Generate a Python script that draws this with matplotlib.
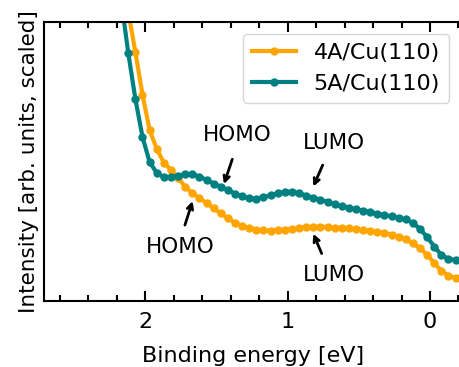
import matplotlib
matplotlib.use('Agg')
import matplotlib.pyplot as plt
import numpy as np

# Энергия связи (eV), шаг 0.05
energy = np.round(np.arange(2.27, -0.2, -0.05), 2)

# 4A/Cu(110)
int_4a = [1.688, 1.437, 1.222, 1.036, 0.892, 0.740, 0.613, 0.545, 0.496, 0.470,
          0.441, 0.409, 0.387, 0.369, 0.351, 0.332, 0.314, 0.296, 0.281, 0.268,
          0.261, 0.256, 0.253, 0.252, 0.254, 0.256, 0.258, 0.261, 0.264, 0.266,
          0.266, 0.265, 0.263, 0.262, 0.260, 0.257, 0.254, 0.251, 0.247, 0.243,
          0.238, 0.230, 0.221, 0.206, 0.190, 0.165, 0.136, 0.108, 0.091, 0.082]

# 5A/Cu(110)
int_5a = [1.581, 1.294, 1.079, 0.889, 0.724, 0.588, 0.498, 0.459, 0.444, 0.444,
          0.449, 0.455, 0.455, 0.446, 0.434, 0.421, 0.410, 0.398, 0.385, 0.375,
          0.368, 0.367, 0.372, 0.379, 0.386, 0.391, 0.392, 0.387, 0.378, 0.370,
          0.363, 0.355, 0.346, 0.339, 0.334, 0.329, 0.324, 0.319, 0.313, 0.308,
          0.303, 0.298, 0.292, 0.280, 0.258, 0.229, 0.195, 0.165, 0.151, 0.147]

fs = 15.5

fig = plt.figure(figsize=(4.59, 3.67), dpi=100)
ax = fig.add_axes([0.0965, 0.180, 0.9085, 0.760])

ax.plot(energy, int_4a, color='orange', lw=3, marker='o', ms=5, label='4A/Cu(110)')
ax.plot(energy, int_5a, color='teal', lw=3, marker='o', ms=5, label='5A/Cu(110)')

ax.set_xlim(2.71, -0.22)
ax.set_ylim(0, 1)
ax.set_yticks([])
ax.set_xticks([2, 1, 0])
ax.set_xticks(np.arange(-0.2, 2.8, 0.2), minor=True)
ax.tick_params(axis='x', which='both', direction='in', top=True, labelsize=16, width=1.5, pad=8)
ax.tick_params(axis='x', which='major', length=7)
ax.tick_params(axis='x', which='minor', length=4)
for s in ax.spines.values():
    s.set_linewidth(1.5)

ax.set_xlabel('Binding energy [eV]', fontsize=16, labelpad=10)
ax.set_ylabel('Intensity [arb. units, scaled]', fontsize=15.5)

# Подписи HOMO / LUMO со стрелками
arrow = dict(arrowstyle='->', color='black', lw=2, shrinkA=0, shrinkB=0)
ax.annotate('', xy=(1.448, 0.419), xytext=(1.389, 0.508), arrowprops=arrow)
ax.text(1.356, 0.595, 'HOMO', fontsize=fs, ha='center', va='center')
ax.annotate('', xy=(1.668, 0.358), xytext=(1.722, 0.272), arrowprops=arrow)
ax.text(1.757, 0.195, 'HOMO', fontsize=fs, ha='center', va='center')
ax.annotate('', xy=(0.82, 0.41), xytext=(0.754, 0.487), arrowprops=arrow)
ax.text(0.675, 0.566, 'LUMO', fontsize=fs, ha='center', va='center')
ax.annotate('', xy=(0.82, 0.241), xytext=(0.761, 0.170), arrowprops=arrow)
ax.text(0.675, 0.093, 'LUMO', fontsize=fs, ha='center', va='center')

ax.legend(loc='upper right', bbox_to_anchor=(449 / 459, 1 - 34 / 367),
          bbox_transform=fig.transFigure, borderaxespad=0, fontsize=16,
          handlelength=2.0)

fig.savefig('out.png', dpi=100)
